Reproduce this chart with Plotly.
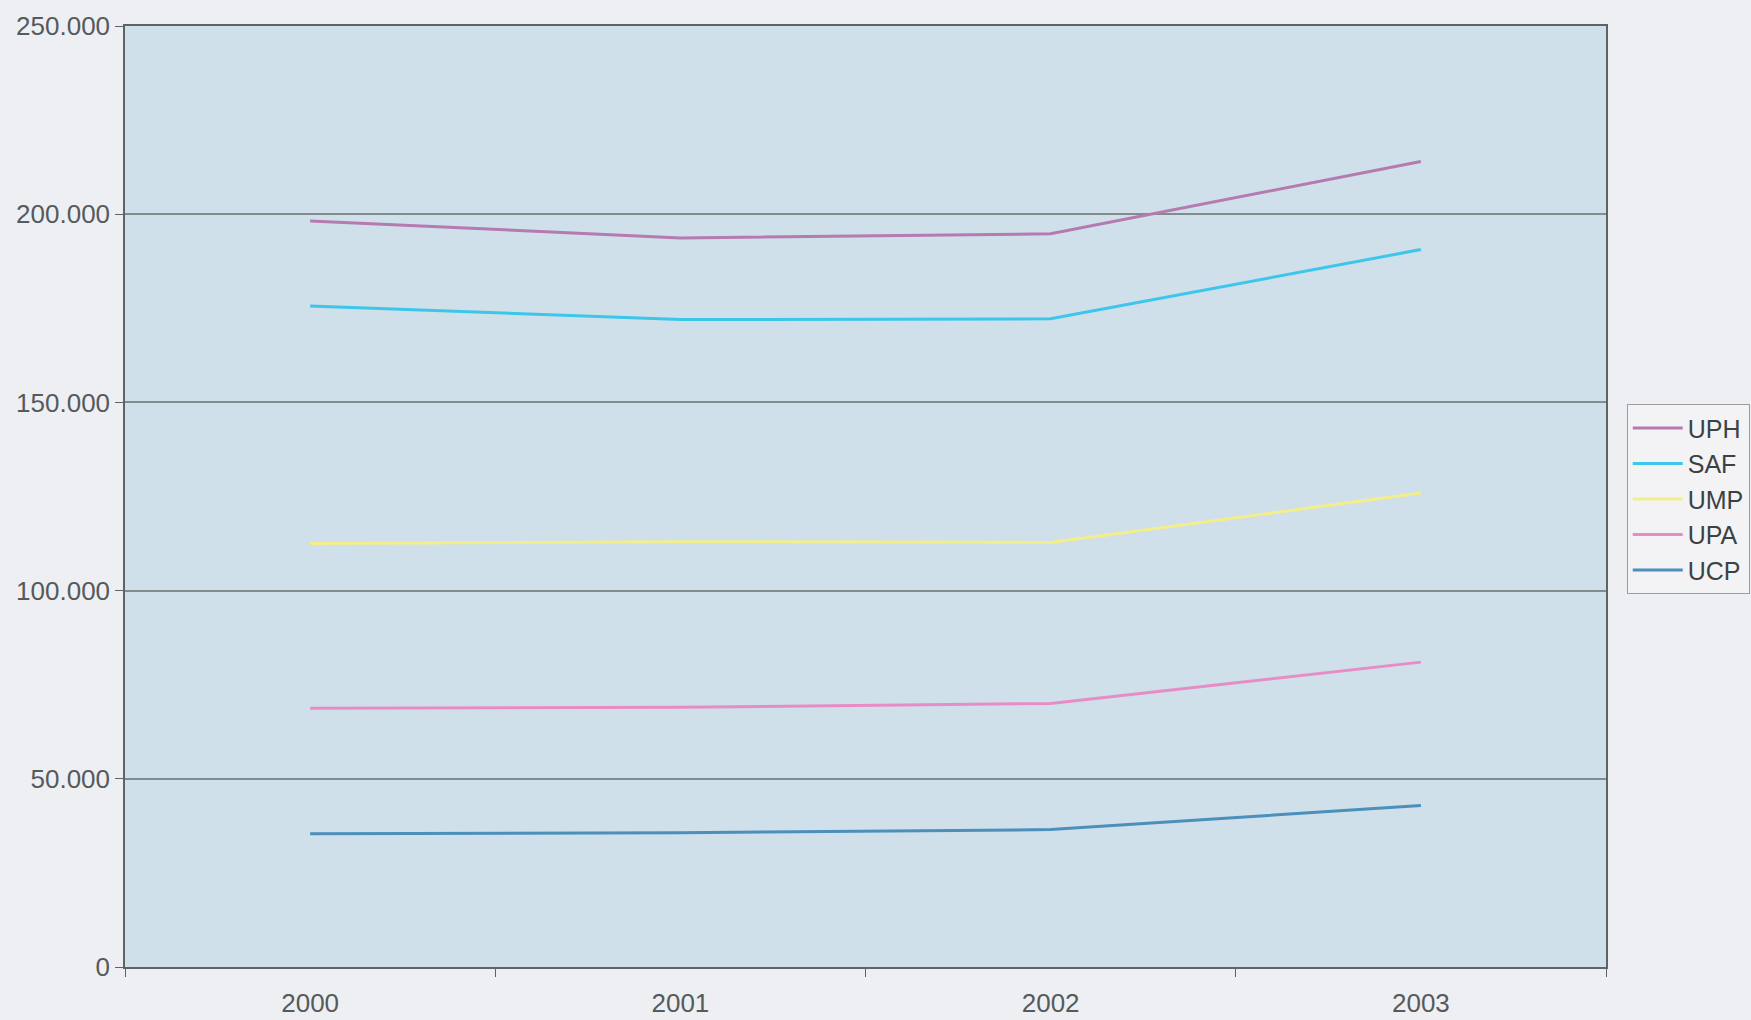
import plotly.graph_objects as go

years = ["2000", "2001", "2002", "2003"]
series_names = ["UPH", "SAF", "UMP", "UPA", "UCP"]
uph = [198200, 193700, 194800, 214000]
saf = [175600, 172000, 172200, 190600]
ump = [112500, 113000, 112800, 125900]
upa = [68750, 69000, 70000, 81000]
ucp = [35400, 35700, 36500, 42900]
y_ticks = [0, 50000, 100000, 150000, 200000, 250000]

series_values = [uph, saf, ump, upa, ucp]
colors = ["#b57aaf", "#3cc6ea", "#f3ee8c", "#e88cc6", "#4b8fba"]

fig = go.Figure()
for name, vals, col in zip(series_names, series_values, colors):
    fig.add_trace(go.Scatter(
        x=years, y=vals, name=name, mode="lines",
        line=dict(color=col, width=3),
    ))

axis_font = dict(family="Liberation Sans, Arial, sans-serif", size=26, color="#555a5c")

fig.update_layout(
    width=1751, height=1020,
    paper_bgcolor="#eeeff2",
    plot_bgcolor="#cfe0ea",
    separators=",.",
    margin=dict(l=125, r=145, t=26, b=53, autoexpand=False),
    showlegend=True,
    legend=dict(
        x=1.014, xanchor="left", y=0.497, yanchor="middle",
        bgcolor="#f3f3f6", bordercolor="#9a9ea2", borderwidth=1,
        font=dict(family="Liberation Sans, Arial, sans-serif", size=25, color="#3c4244"),
        itemwidth=50,
    ),
    xaxis=dict(
        type="category", range=[-0.5, 3.5],
        showline=True, linecolor="#5d6466", linewidth=1.5, mirror=True,
        ticks="outside", tickson="boundaries", ticklen=8, tickcolor="#5d6466",
        showgrid=False, tickfont=axis_font, zeroline=False,
        ticklabelstandoff=12,
    ),
    yaxis=dict(
        range=[0, 250000], tickvals=y_ticks, tickformat=",d",
        showline=True, linecolor="#5d6466", linewidth=1.5, mirror=True,
        ticks="outside", ticklen=8, tickcolor="#5d6466",
        showgrid=True, gridcolor="#838c8c", gridwidth=1.5,
        tickfont=axis_font, zeroline=False,
        ticklabelstandoff=0,
    ),
)

fig.write_html(
    "out.html",
    config={"displayModeBar": False},
    post_script="document.body.style.margin='0';document.body.style.background='#eeeff2';",
)
